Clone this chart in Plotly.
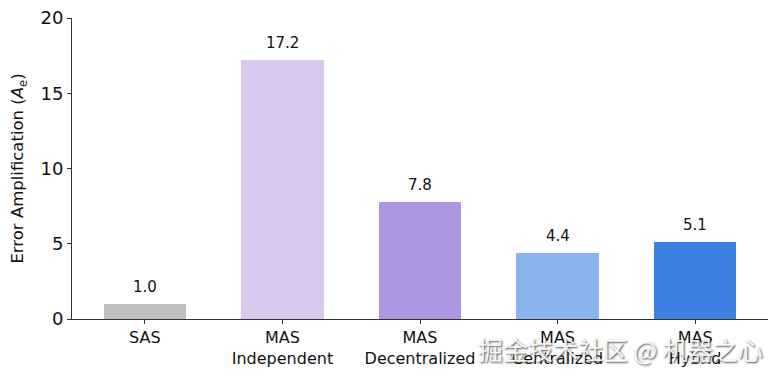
import plotly.graph_objects as go

categories = ["SAS", "MAS<br>Independent", "MAS<br>Decentralized", "MAS<br>Centralized", "MAS<br>Hybrid"]
values = [1.0, 17.2, 7.8, 4.4, 5.1]
labels = ["1.0", "17.2", "7.8", "4.4", "5.1"]
colors = ["#bfbfbf", "#d8c8ee", "#ad96df", "#8ab4ee", "#3d7fe3"]
y_ticks = [0, 5, 10, 15, 20]

fig = go.Figure()
fig.add_trace(go.Bar(
    x=list(range(len(categories))), y=values,
    marker=dict(color=colors, line=dict(width=0)),
    width=0.6, showlegend=False,
))

for i, (v, t) in enumerate(zip(values, labels)):
    fig.add_annotation(x=i, y=v, text=t, showarrow=False, yanchor="bottom",
                       yshift=6, font=dict(size=15, color="#111", family="DejaVu Sans"))

fig.add_annotation(x=1, y=0, xref="paper", yref="paper", xanchor="right", yanchor="top",
                   xshift=-3, yshift=-10,
                   text="掘金技术社区 @ 机器之心", showarrow=False,
                   font=dict(size=25, color="rgba(255,255,255,0.92)", family="Noto Sans CJK SC",
                             shadow="1px 1px 2px rgba(50,50,50,0.95)"))

fig.update_layout(
    width=769, height=370,
    margin=dict(l=64, r=9, t=10, b=59, autoexpand=False),
    plot_bgcolor="white", paper_bgcolor="white",
    font=dict(family="DejaVu Sans", color="#111"),
    bargap=0,
)
fig.update_xaxes(
    range=[-0.53, 4.53], tickmode="array", tickvals=list(range(len(categories))),
    ticktext=categories, ticks="outside", ticklen=4, tickcolor="#333",
    showline=True, linecolor="#333", linewidth=1, showgrid=False, zeroline=False,
    tickfont=dict(size=16, family="DejaVu Sans", color="#111"),
)
fig.update_yaxes(
    range=[0, 20], tickvals=y_ticks, ticks="outside", ticklen=4, tickcolor="#333",
    showline=True, linecolor="#333", linewidth=1, showgrid=False, zeroline=False,
    ticklabeloverflow="allow",
    tickfont=dict(size=18, family="DejaVu Sans", color="#111"),
    title=dict(text="Error Amplification (<i>A</i><sub>e</sub>)", font=dict(size=16.5, family="DejaVu Sans"), standoff=12),
)

fig.write_html("out.html")
